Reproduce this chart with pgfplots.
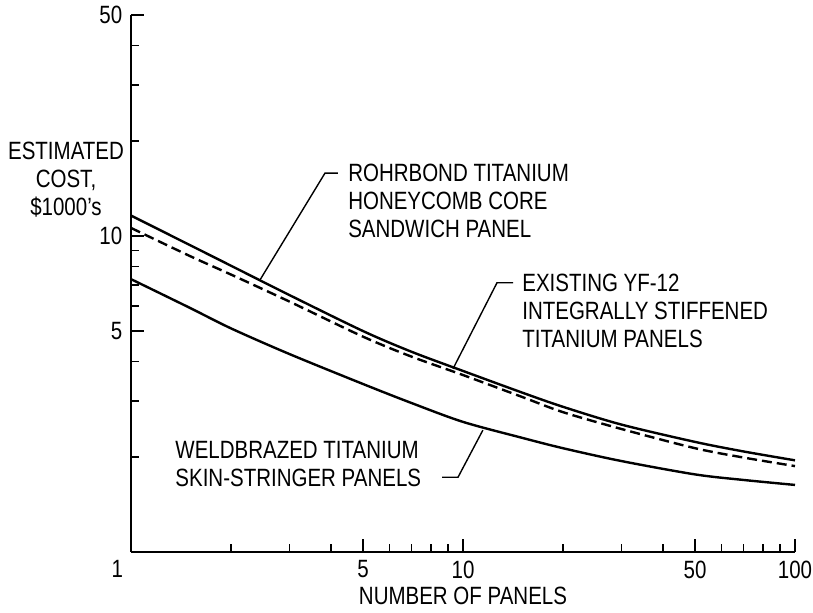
\documentclass[border=0pt]{standalone}
\usepackage{pgfplots}
\pgfplotsset{compat=1.18}
\usepackage{fontspec}
\setmainfont{Liberation Sans}[FakeStretch=0.82]

\begin{document}
\fontsize{12.5}{14}\selectfont
\begin{tikzpicture}
\path[use as bounding box] (-65.5pt,-30.5pt) rectangle (341pt,276pt);
\begin{axis}[
    at={(0pt,0pt)}, anchor=south west,
    scale only axis, width=332pt, height=268.5pt,
    xmode=log, ymode=log,
    xmin=1, xmax=100, ymin=1, ymax=50,
    axis x line*=bottom, axis y line*=left,
    axis line style={line width=1pt,-},
    xtick={1,5,10,50,100},
    xticklabels={\makebox[0pt][r]{1\hspace{4pt}},5,10,50,100},
    minor xtick={2,3,4,6,7,8,9,20,30,40,60,70,80,90},
    ytick={5,10,50}, yticklabels={5,10,50},
    minor ytick={2,3,4,6,7,8,9,20,30,40},
    tick align=inside,
    major tick length=6.5pt, minor tick length=4pt,
    tick style={line width=0.8pt, black},
    /pgf/number format/assume math mode=true,
    xlabel={NUMBER OF PANELS},
    xlabel style={yshift=4pt},
    clip=false,
]
% Rohrbond titanium honeycomb core sandwich panel
\addplot[black, line width=1.2pt, smooth] coordinates {
    (1,11.6) (1.5,9.37) (2,8.05) (3,6.5) (5,5.0) (7,4.3) (10,3.74)
    (15,3.2) (20,2.88) (30,2.53) (50,2.23) (70,2.08) (100,1.95)
};
% Existing YF-12 integrally stiffened titanium panels
\addplot[black, line width=1.2pt, smooth, dash pattern=on 5pt off 2.5pt] coordinates {
    (1,10.6) (1.5,8.65) (2,7.55) (3,6.2) (5,4.8) (7,4.15) (10,3.63)
    (15,3.1) (20,2.77) (30,2.45) (50,2.13) (70,1.99) (100,1.87)
};
% Weldbrazed titanium skin-stringer panels
\addplot[black, line width=1.2pt, smooth] coordinates {
    (1,7.3) (1.5,5.93) (2,5.1) (3,4.23) (5,3.4) (7,2.96) (10,2.58)
    (15,2.30) (20,2.13) (30,1.94) (50,1.76) (70,1.69) (100,1.63)
};

\draw[line width=0.7pt] (axis cs:2.447,7.26) -- (axis cs:3.84,15.8) -- (axis cs:4.2,15.8);
\node[anchor=west, align=left, inner sep=0pt] at (axis cs:4.5,12.9)
    {ROHRBOND TITANIUM\\HONEYCOMB CORE\\SANDWICH PANEL};

\draw[line width=0.7pt] (axis cs:9.33,3.80) -- (axis cs:12.66,7.11) -- (axis cs:14.15,7.11);
\node[anchor=west, align=left, inner sep=0pt] at (axis cs:15.05,5.80)
    {EXISTING YF-12\\INTEGRALLY STIFFENED\\TITANIUM PANELS};

\draw[line width=0.7pt] (axis cs:11.48,2.43) -- (axis cs:9.66,1.724) -- (axis cs:8.65,1.724);
\node[anchor=west, align=left, inner sep=0pt] at (axis cs:1.357,1.90)
    {WELDBRAZED TITANIUM\\SKIN-STRINGER PANELS};
\end{axis}
\node[align=center, anchor=north, inner sep=0pt] at (-32.5pt,205pt)
    {ESTIMATED\\COST,\\\$1000's};
\end{tikzpicture}
\end{document}
